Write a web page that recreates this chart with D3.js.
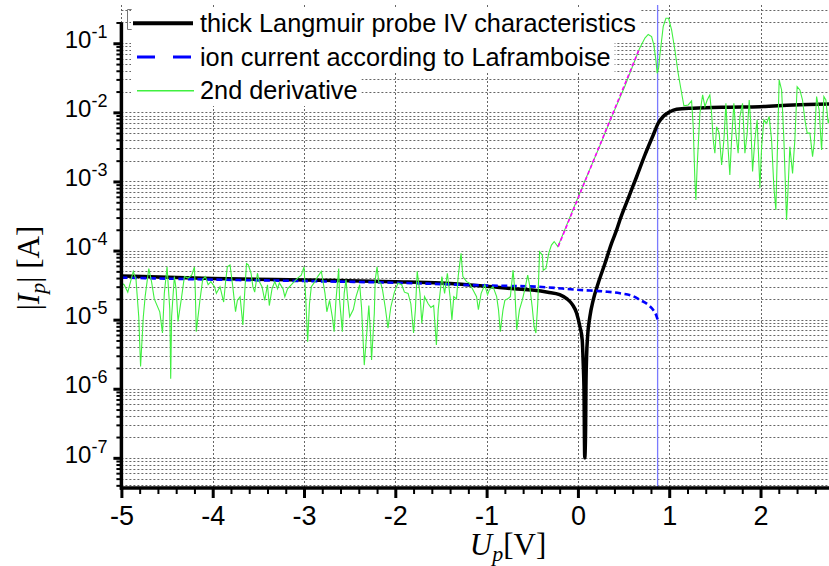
<!DOCTYPE html>
<html><head><meta charset="utf-8">
<script src="https://cdn.jsdelivr.net/npm/d3@7"></script>
<style>body{margin:0;background:#fff}svg{display:block}</style>
</head><body>
<svg id="c" width="829" height="566"></svg>
<script>
// ---------------- data ----------------
const probeU = [-5, -4, -3, -2, -1.5, -1, -0.7, -0.5, -0.33, -0.2, -0.12, -0.06, -0.014, 0.022, 0.047, 0.058, 0.066, 0.075, 0.084, 0.088, 0.095, 0.106, 0.131, 0.168, 0.222, 0.296, 0.369, 0.424, 0.46, 0.551, 0.643, 0.734, 0.825, 0.879, 0.934, 1.007, 1.081, 1.263, 1.628, 1.993, 2.358, 2.75];
const probeI = [4.28e-5, 3.95e-5, 3.75e-5, 3.55e-5, 3.4e-5, 3.05e-5, 2.8e-5, 2.68e-5, 2.5e-5, 2.3e-5, 2.0e-5, 1.65e-5, 1.24e-5, 7.9e-6, 5.1e-6, 2.34e-6, 1.07e-6, 1.0e-7, 2.5e-7, 1.07e-6, 2.92e-6, 5.7e-6, 1.1e-5, 1.93e-5, 3.37e-5, 6.5e-5, 1.28e-4, 1.99e-4, 2.77e-4, 5.7e-4, 1.17e-3, 2.42e-3, 4.71e-3, 6.95e-3, 8.7e-3, 1.02e-2, 1.11e-2, 1.15e-2, 1.19e-2, 1.21e-2, 1.28e-2, 1.32e-2];

const ionU = [-5, -4, -3, -2, -1, -0.45, 0.02, 0.3, 0.46, 0.6, 0.68, 0.78, 0.825, 0.855, 0.873];
const ionI = [4.06e-5, 3.8e-5, 3.62e-5, 3.42e-5, 3.12e-5, 3.0e-5, 2.69e-5, 2.55e-5, 2.41e-5, 2.2e-5, 1.93e-5, 1.6e-5, 1.38e-5, 1.18e-5, 1.0e-5];

const derivU = [-5.00,-4.97,-4.93,-4.87,-4.84,-4.81,-4.79,-4.76,-4.74,-4.70,-4.67,-4.64,-4.58,-4.55,-4.53,-4.50,-4.47,-4.46,-4.45,-4.42,-4.40,-4.38,-4.34,-4.31,-4.27,-4.23,-4.20,-4.19,-4.18,-4.14,-4.11,-4.08,-4.05,-4.02,-3.98,-3.96,-3.92,-3.88,-3.86,-3.84,-3.81,-3.78,-3.75,-3.73,-3.70,-3.67,-3.65,-3.63,-3.61,-3.58,-3.56,-3.54,-3.51,-3.49,-3.46,-3.43,-3.40,-3.38,-3.35,-3.32,-3.29,-3.27,-3.23,-3.21,-3.18,-3.12,-3.07,-3.03,-3.00,-2.98,-2.96,-2.94,-2.92,-2.89,-2.85,-2.81,-2.77,-2.75,-2.72,-2.69,-2.67,-2.65,-2.62,-2.61,-2.58,-2.56,-2.54,-2.52,-2.50,-2.46,-2.43,-2.39,-2.37,-2.34,-2.31,-2.29,-2.27,-2.26,-2.23,-2.22,-2.20,-2.18,-2.16,-2.14,-2.11,-2.08,-2.05,-2.01,-1.97,-1.93,-1.90,-1.86,-1.83,-1.80,-1.78,-1.76,-1.73,-1.71,-1.68,-1.64,-1.61,-1.58,-1.55,-1.53,-1.49,-1.46,-1.43,-1.40,-1.38,-1.36,-1.33,-1.31,-1.28,-1.26,-1.22,-1.19,-1.15,-1.11,-1.09,-1.06,-1.02,-0.99,-0.97,-0.93,-0.89,-0.87,-0.85,-0.82,-0.80,-0.77,-0.74,-0.71,-0.69,-0.67,-0.64,-0.61,-0.58,-0.55,-0.53,-0.50,-0.48,-0.46,-0.44,-0.42,-0.39,-0.38,-0.35,-0.32,-0.29,-0.26,-0.22,-0.09,0.08,0.24,0.37,0.515,0.60,0.671,0.734,0.770,0.807,0.832,0.854,0.868,0.884,0.898,0.934,0.964,0.993,1.026,1.062,1.098,1.136,1.161,1.208,1.245,1.263,1.281,1.292,1.306,1.336,1.366,1.391,1.416,1.445,1.464,1.482,1.500,1.519,1.547,1.574,1.599,1.621,1.646,1.664,1.683,1.708,1.730,1.755,1.774,1.803,1.829,1.854,1.876,1.891,1.913,1.938,1.963,1.993,2.012,2.037,2.066,2.095,2.121,2.146,2.168,2.182,2.204,2.231,2.256,2.285,2.303,2.321,2.351,2.376,2.401,2.431,2.460,2.486,2.511,2.541,2.570,2.588,2.614,2.642,2.669,2.694,2.716,2.741,2.78];
const derivI = [3.4e-5,3.2e-5,2.5e-5,5.0e-5,3.8e-5,1.1e-5,2.1e-6,1.1e-5,2.15e-5,5.5e-5,3.55e-5,2.0e-5,1.3e-5,6.4e-6,2.4e-5,5.8e-5,1.4e-5,1.4e-6,1.1e-5,4.2e-5,2.7e-5,9.4e-6,2.15e-5,4.2e-5,4.0e-5,4.4e-5,5.8e-5,2.4e-5,6.7e-6,1.9e-5,3.8e-5,4.2e-5,3.2e-5,3.55e-5,3.0e-5,2.4e-5,3.0e-5,1.8e-5,3.4e-5,5.8e-5,6.2e-5,3.0e-5,1.3e-5,1.9e-5,2.15e-5,8.4e-6,2.4e-5,6.5e-5,6.2e-5,4.7e-5,3.0e-5,2.5e-5,4.7e-5,3.55e-5,3.0e-5,1.9e-5,3.2e-5,1.6e-5,2.8e-5,3.55e-5,2.8e-5,3.4e-5,2.8e-5,2.15e-5,2.8e-5,3.4e-5,4.0e-5,4.4e-5,5.8e-5,1.9e-5,4.8e-6,1.7e-5,3.0e-5,3.4e-5,4.2e-5,5.0e-5,2.4e-5,1.3e-5,1.9e-5,1.1e-5,6.7e-6,1.9e-5,5.5e-5,1.9e-5,6.7e-6,2.4e-5,3.8e-5,1.9e-5,1.1e-5,1.4e-5,2.15e-5,3.2e-5,1.5e-5,2.2e-6,7.1e-6,1.6e-5,5.7e-6,2.6e-6,1.24e-5,3.8e-5,5.8e-5,3.4e-5,3.4e-5,2.7e-5,1.5e-5,7.5e-6,1.5e-5,2.5e-5,3.4e-5,3.2e-5,2.5e-5,2.4e-5,1.7e-5,6.4e-6,1.4e-5,5.0e-5,2.4e-5,8.9e-6,2.15e-5,1.7e-5,1.5e-5,1.6e-5,4.3e-6,1.4e-5,4.2e-5,2.4e-5,4.7e-5,2.15e-5,9.9e-6,2.15e-5,2.0e-5,4.4e-5,9.1e-5,4.2e-5,3.55e-5,3.4e-5,2.7e-5,2.15e-5,1.4e-5,2.4e-5,3.2e-5,2.3e-5,2.7e-5,3.0e-5,2.15e-5,1.4e-5,6.7e-6,1.4e-5,1.9e-5,2.0e-5,2.15e-5,5.2e-5,2.5e-5,7.1e-6,1.4e-5,1.9e-5,2.8e-5,4.4e-5,3.2e-5,1.5e-5,7.9e-6,6.4e-6,1.7e-5,9.6e-5,8.6e-5,5.2e-5,5.5e-5,9.1e-5,1.2e-4,1.35e-4,1.14e-4,3.0e-4,1.05e-3,3.27e-3,8.6e-3,2.41e-2,4.7e-2,8.2e-2,0.119,0.134,0.125,0.094,0.057,0.0368,0.044,0.0677,0.174,0.230,0.230,0.156,0.080,0.0368,0.0189,0.0124,0.0128,0.0146,6.2e-3,1.05e-3,5.4e-4,1.64e-3,9.7e-3,1.79e-2,1.21e-2,1.51e-2,1.79e-2,9.7e-3,4.0e-3,2.56e-3,6.2e-3,5.0e-3,1.73e-3,4.0e-3,1.35e-2,2.86e-3,1.24e-3,4.0e-3,1.35e-2,5.0e-3,2.56e-3,8.7e-3,1.35e-2,2.56e-3,5.0e-3,1.51e-2,7.8e-3,1.39e-3,4.0e-3,7.8e-3,8.0e-4,3.19e-3,7.8e-3,6.95e-3,8.7e-3,4.0e-3,8.4e-4,3.87e-4,2.05e-3,2.94e-2,2.11e-2,4.0e-3,2.77e-4,8.4e-4,3.19e-3,1.31e-3,4.0e-3,2.35e-2,2.11e-2,1.51e-2,7.8e-3,5.0e-3,5.0e-3,2.29e-3,3.57e-3,1.69e-2,1.08e-2,2.86e-3,1.69e-2,1.51e-2,6.95e-3,1.08e-2];

const fitU = [-0.216, 0.671];
const fitI = [1.14e-4, 8.2e-2];
const plasmaPotential = 0.873;

const xTicks = [-5, -4, -3, -2, -1, 0, 1, 2];
const yTickExponents = [-7, -6, -5, -4, -3, -2, -1];
const legendLabels = ["thick Langmuir probe IV characteristics", "ion current according to Laframboise", "2nd derivative"];

// ---------------- layout ----------------
const svg = d3.select("#c");
const L = 121.4, R = 829, T = 5, B = 488;
const x = d3.scaleLinear().domain([-5, 2.75]).range([L, R]);
const y = d3.scaleLog().domain([3.66e-8, 0.358]).range([B, T]);
const SANS = "'Liberation Sans', Arial, sans-serif";
const SERIF = "'Liberation Serif', 'DejaVu Serif', serif";

svg.append("defs").append("clipPath").attr("id", "plot")
  .append("rect").attr("x", L).attr("y", T).attr("width", R - L).attr("height", B - T);

// grid values
const decades = yTickExponents.map(e => Math.pow(10, e));
const gridY = [];
for (let e = -8; e <= 0; e++) for (let m = 1; m <= 9; m++) {
  const v = m * Math.pow(10, e);
  if (v >= y.domain()[0] && v <= y.domain()[1]) gridY.push(v);
}
const grid = svg.append("g").attr("stroke", "#666").attr("stroke-width", 1).attr("stroke-dasharray", "2,2").attr("fill", "none");
grid.selectAll("line.h").data(gridY).join("line").attr("class", "h")
  .attr("x1", L).attr("x2", R).attr("y1", d => Math.round(y(d)) + 0.5).attr("y2", d => Math.round(y(d)) + 0.5);
grid.selectAll("line.v").data(xTicks).join("line").attr("class", "v")
  .attr("x1", d => Math.round(x(d)) + 0.5).attr("x2", d => Math.round(x(d)) + 0.5).attr("y1", T).attr("y2", B);

// plasma potential marker
svg.append("line").attr("x1", x(plasmaPotential)).attr("x2", x(plasmaPotential))
  .attr("y1", T).attr("y2", B).attr("stroke", "#7b7bff").attr("stroke-width", 1.3);

const plot = svg.append("g").attr("clip-path", "url(#plot)");
const zip = (u, i) => u.map((d, k) => [d, i[k]]);
const smooth = d3.line().x(d => x(d[0])).y(d => y(d[1])).curve(d3.curveMonotoneX);
const straight = d3.line().x(d => x(d[0])).y(d => y(d[1]));

plot.append("path").attr("d", smooth(zip(probeU, probeI))).attr("fill", "none")
  .attr("stroke", "#000").attr("stroke-width", 3.5).attr("stroke-linejoin", "round");
plot.append("path").attr("d", smooth(zip(ionU, ionI))).attr("fill", "none")
  .attr("stroke", "#0000ff").attr("stroke-width", 2.6).attr("stroke-dasharray", "6,3.5");
plot.append("path").attr("d", straight(zip(derivU, derivI))).attr("fill", "none")
  .attr("stroke", "#40f040").attr("stroke-width", 1.1);
plot.append("path").attr("d", straight(zip(fitU, fitI))).attr("fill", "none")
  .attr("stroke", "#ff00ff").attr("stroke-width", 1.6).attr("stroke-dasharray", "4,2.5");

// ---------------- axes ----------------
const xAxisG = svg.append("g").attr("transform", `translate(0,${B})`);
xAxisG.call(d3.axisBottom(x).tickValues(d3.range(-5, 2.75, 0.2).filter(v => Math.abs(v - Math.round(v)) > 1e-6)).tickSize(6).tickFormat(""))
  .call(g => g.select(".domain").remove())
  .call(g => g.selectAll("line").attr("stroke-width", 2));
const xMaj = svg.append("g").attr("transform", `translate(0,${B})`);
xMaj.call(d3.axisBottom(x).tickValues(xTicks).tickSize(10).tickPadding(8).tickFormat(d => String(d)))
  .call(g => g.select(".domain").remove())
  .call(g => g.selectAll("line").attr("stroke-width", 3))
  .call(g => g.selectAll("text").attr("font-family", SANS).attr("font-size", 27).attr("fill", "#000"));

const yMin = svg.append("g").attr("transform", `translate(${L},0)`);
yMin.call(d3.axisLeft(y).tickValues(gridY.filter(v => !decades.some(d => Math.abs(d - v) / d < 1e-6) && v < 0.25)).tickSize(5).tickFormat(""))
  .call(g => g.select(".domain").remove())
  .call(g => g.selectAll("line").attr("stroke-width", 2));
const yMaj = svg.append("g").attr("transform", `translate(${L},0)`);
yMaj.call(d3.axisLeft(y).tickValues(decades).tickSize(8).tickPadding(5).tickFormat(""))
  .call(g => g.select(".domain").remove())
  .call(g => g.selectAll("line").attr("stroke-width", 3));
yMaj.selectAll(".tick text").each(function (d) {
  const t = d3.select(this).attr("font-family", SANS).attr("fill", "#000").attr("dy", "0.42em").attr("x", -14);
  t.append("tspan").attr("font-size", 24).text("10");
  t.append("tspan").attr("font-size", 18).attr("dy", -10).text(String(Math.round(Math.log10(d))));
});

// axis lines
svg.append("line").attr("x1", L - 1.5).attr("x2", R).attr("y1", B).attr("y2", B).attr("stroke", "#000").attr("stroke-width", 3.5);
svg.append("line").attr("x1", L).attr("x2", L).attr("y1", y(0.2)).attr("y2", B + 1.7).attr("stroke", "#000").attr("stroke-width", 3.5);

// axis titles
const xt = svg.append("text").attr("x", 508).attr("y", 555).attr("text-anchor", "middle").attr("font-family", SERIF).attr("font-size", 31);
xt.append("tspan").attr("font-style", "italic").text("U");
xt.append("tspan").attr("font-style", "italic").attr("font-size", 22).attr("dy", 6).text("p");
xt.append("tspan").attr("dy", -6).text("[V]");

const yt = svg.append("text").attr("transform", "translate(39,268) rotate(-90)").attr("text-anchor", "middle").attr("font-family", SERIF).attr("font-size", 31);
yt.append("tspan").text("|");
yt.append("tspan").attr("font-style", "italic").text("I");
yt.append("tspan").attr("font-style", "italic").attr("font-size", 22).attr("dy", 6).text("p");
yt.append("tspan").attr("dy", -6).text("| [A]");

// ---------------- legend ----------------
const leg = svg.append("g");
const rowTop = [8, 39, 73], rowBot = [39, 73, 106], rowLine = [23.3, 57, 90.7], rowBase = [31.7, 65.5, 98.5];
const texts = legendLabels.map((s, i) => leg.append("text").attr("x", 200).attr("y", rowBase[i])
  .attr("font-family", SANS).attr("font-size", 25.3).attr("fill", "#000").text(s));
texts.forEach((t, i) => {
  const w = t.node().getComputedTextLength();
  leg.insert("rect", "text").attr("x", 131).attr("y", rowTop[i]).attr("width", 200 + w + 4 - 131).attr("height", rowBot[i] - rowTop[i]).attr("fill", "#fff");
});
leg.append("line").attr("x1", 133).attr("x2", 193).attr("y1", rowLine[0]).attr("y2", rowLine[0]).attr("stroke", "#000").attr("stroke-width", 4);
leg.append("line").attr("x1", 137).attr("x2", 193).attr("y1", rowLine[1]).attr("y2", rowLine[1]).attr("stroke", "#0000ff").attr("stroke-width", 3.2).attr("stroke-dasharray", "18,18");
leg.append("line").attr("x1", 137).attr("x2", 194).attr("y1", rowLine[2]).attr("y2", rowLine[2]).attr("stroke", "#40f040").attr("stroke-width", 1.4);
leg.append("path").attr("d", "M131.7,9.5H127.5V29.5H131.7").attr("fill", "none").attr("stroke", "#777").attr("stroke-width", 1);
</script>
</body></html>
